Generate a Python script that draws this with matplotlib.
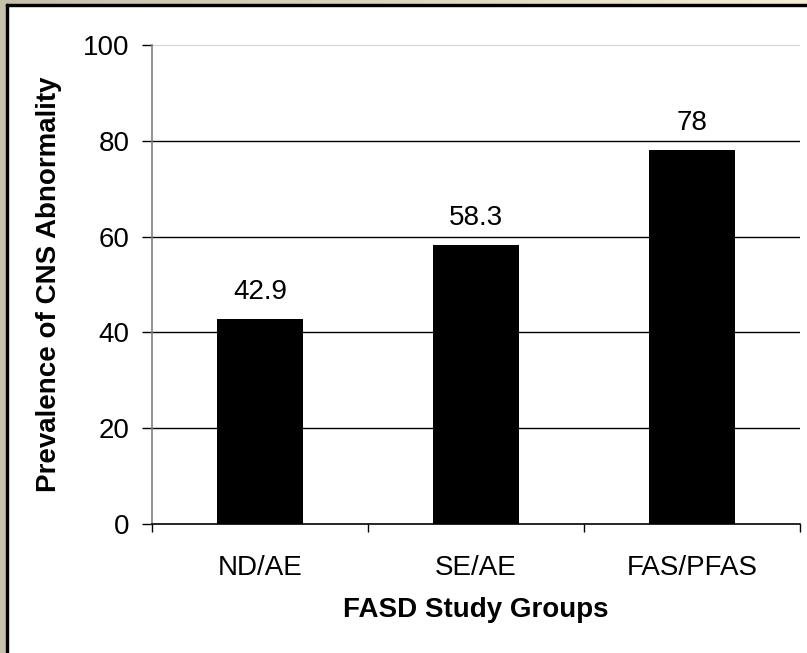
import numpy as np
import matplotlib
matplotlib.use("Agg")
from matplotlib import pyplot as plt
from matplotlib.patches import Rectangle

# prevalence of CNS abnormality per FASD study group (%)
groups = ["ND/AE", "SE/AE", "FAS/PFAS"]
prevalence = [42.9, 58.3, 78]
value_labels = ["42.9", "58.3", "78"]
y_ticks = [0, 20, 40, 60, 80, 100]

plt.rcParams['font.family'] = ['Liberation Sans', 'DejaVu Sans']
FS = 20

W, H = 807, 653
fig = plt.figure(figsize=(W / 100, H / 100), dpi=100)
fig.patch.set_facecolor('white')

# window frame: beige strips with a dark rule on the left and top
grad = np.linspace(0, 1, 256)[None, :]
top_ax = fig.add_axes([0, 1 - 4 / H, 1, 4 / H])
top_ax.imshow(grad, aspect='auto', extent=[0, 1, 0, 1],
              cmap=matplotlib.colors.LinearSegmentedColormap.from_list('strip', ['#c4c0ac', '#f6eed2']))
top_ax.axis('off')
fig.patches.append(Rectangle((0, 0), 6 / W, 1, transform=fig.transFigure, color='#c4c0ac', zorder=0))
fig.patches.append(Rectangle((6 / W, 0), 2 / W, 1 - 4 / H, transform=fig.transFigure, color='black', zorder=1))
fig.patches.append(Rectangle((6 / W, 1 - 6 / H), 1 - 6 / W, 2 / H, transform=fig.transFigure, color='black', zorder=1))

ax = fig.add_axes([152 / W, 1 - 524 / H, 648 / W, 479 / H])
x = np.arange(len(groups))
ax.bar(x, prevalence, width=0.4, color='black', zorder=3)

for xi, v, lab in zip(x, prevalence, value_labels):
    ax.annotate(lab, (xi, v), xytext=(0, 10), textcoords='offset points',
                ha='center', va='bottom', fontsize=FS)

ax.set_xlim(-0.5, len(groups) - 0.5)
ax.set_ylim(0, 100)

# horizontal grid lines, the top one lighter
for t in y_ticks[1:-1]:
    ax.axhline(t, color='black', lw=1.0, zorder=1)
ax.axhline(100, color='#c8c8c8', lw=1.2, zorder=1)

for s in ['top', 'right']:
    ax.spines[s].set_visible(False)
ax.spines['left'].set_color('#808080')
ax.spines['left'].set_linewidth(1.2)
ax.spines['bottom'].set_color('black')
ax.spines['bottom'].set_linewidth(1.2)

ax.set_yticks(y_ticks)
ax.tick_params(axis='y', length=7, width=1, color='black', pad=9, labelsize=FS)
ax.set_xticks(x)
ax.set_xticklabels(groups)
ax.tick_params(axis='x', which='major', length=0, pad=22, labelsize=FS)
ax.set_xticks(np.arange(len(groups) + 1) - 0.5, minor=True)
ax.tick_params(axis='x', which='minor', length=6, width=1, color='black')

ax.set_xlabel('FASD Study Groups', fontsize=FS, fontweight='bold')
ax.xaxis.set_label_coords(0.5, -0.152)
ax.set_ylabel('Prevalence of CNS Abnormality', fontsize=FS, fontweight='bold')
ax.yaxis.set_label_coords(-0.139, 0.5)

fig.savefig('out.png', dpi=100)
